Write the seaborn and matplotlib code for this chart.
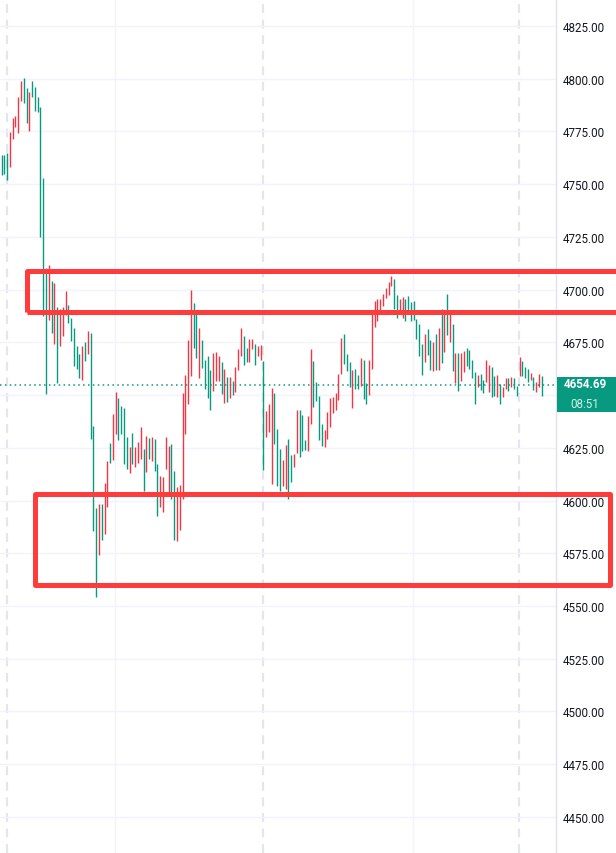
import numpy as np
import pandas as pd
import matplotlib
matplotlib.use("Agg")
import matplotlib.pyplot as plt
from matplotlib.patches import Rectangle
from matplotlib.ticker import FormatStrFormatter
from matplotlib.transforms import blended_transform_factory
import seaborn as sns

# candle highs / lows (one per bar, left to right)
highs = [
    4764.0, 4764.0, 4764.8, 4774.7, 4781.4, 4782.5, 4791.5, 4799.1, 4800.4, 4795.6,
    4793.7, 4799.1, 4796.1, 4791.5, 4786.6, 4752.9, 4710.3, 4711.7, 4704.1, 4703.2,
    4691.8, 4690.8, 4691.8, 4699.4, 4692.7, 4686.6, 4681.8, 4673.3, 4669.5, 4673.3,
    4675.2, 4680.4, 4679.5, 4635.4, 4596.5, 4598.4, 4598.4, 4608.3, 4618.8, 4627.3,
    4641.1, 4651.5, 4648.6, 4644.8, 4643.9, 4630.1, 4625.4, 4632.0, 4625.4, 4627.8,
    4634.9, 4624.5, 4630.6, 4629.7, 4630.1, 4629.2, 4617.3, 4611.7, 4611.2, 4630.1,
    4625.9, 4626.8, 4614.0, 4606.4, 4607.4, 4651.0, 4659.5, 4676.1, 4699.8, 4693.7,
    4689.4, 4681.8, 4676.1, 4666.7, 4668.6, 4661.9, 4670.0, 4670.4, 4668.6, 4665.7,
    4662.4, 4658.6, 4658.6, 4656.7, 4663.3, 4671.9, 4681.8, 4678.0, 4672.3, 4676.6,
    4676.6, 4674.2, 4673.3, 4673.8, 4666.2, 4642.5, 4645.8, 4653.4, 4651.0, 4633.9,
    4624.5, 4619.2, 4626.4, 4629.2, 4621.6, 4622.1, 4642.9, 4642.9, 4640.6, 4628.7,
    4640.1, 4671.9, 4666.2, 4656.2, 4649.6, 4636.3, 4633.5, 4642.0, 4648.6, 4649.1,
    4651.0, 4660.0, 4677.1, 4679.0, 4669.5, 4665.7, 4661.9, 4662.4, 4659.5, 4667.6,
    4666.7, 4655.8, 4666.7, 4688.5, 4694.6, 4695.6, 4695.6, 4697.9, 4700.8, 4703.6,
    4706.5, 4705.1, 4697.5, 4695.6, 4696.5, 4695.6, 4697.0, 4694.2, 4694.6, 4686.1,
    4683.7, 4674.2, 4679.0, 4681.4, 4676.1, 4675.2, 4679.0, 4681.8, 4690.8, 4688.9,
    4697.9, 4690.4, 4683.7, 4670.0, 4670.0, 4670.0, 4670.9, 4672.3, 4671.4, 4666.7,
    4661.0, 4659.5, 4660.0, 4657.2, 4666.7, 4664.3, 4663.3, 4659.1, 4659.5, 4655.3,
    4653.9, 4658.1, 4658.1, 4658.6, 4658.1, 4654.3, 4668.1, 4666.2, 4663.3, 4662.4,
    4660.5, 4658.6, 4656.2, 4660.0, 4659.1,
]
lows = [
    4754.5, 4754.8, 4752.0, 4758.3, 4771.4, 4777.3, 4774.3, 4789.4, 4788.6, 4779.0,
    4775.4, 4791.3, 4784.8, 4784.2, 4725.0, 4687.5, 4650.5, 4685.6, 4679.5, 4674.2,
    4655.8, 4673.3, 4678.0, 4688.0, 4684.2, 4675.7, 4663.8, 4662.4, 4658.1, 4657.2,
    4666.2, 4669.5, 4629.2, 4585.6, 4554.3, 4574.2, 4581.3, 4584.2, 4597.0, 4617.8,
    4619.2, 4631.6, 4628.7, 4631.6, 4617.3, 4615.0, 4613.1, 4617.3, 4615.9, 4617.8,
    4619.7, 4604.5, 4613.6, 4619.7, 4618.8, 4614.0, 4592.7, 4597.0, 4594.6, 4615.0,
    4603.1, 4600.8, 4581.3, 4580.8, 4586.1, 4600.8, 4631.6, 4645.8, 4659.1, 4672.3,
    4667.6, 4658.1, 4662.9, 4652.9, 4648.6, 4642.9, 4652.0, 4656.7, 4656.7, 4650.5,
    4646.3, 4646.7, 4648.6, 4650.1, 4651.5, 4661.9, 4668.6, 4664.3, 4665.7, 4665.7,
    4671.9, 4664.3, 4668.6, 4666.7, 4614.5, 4630.1, 4632.5, 4607.9, 4626.8, 4606.9,
    4604.5, 4606.9, 4605.5, 4600.8, 4608.8, 4615.9, 4622.6, 4620.7, 4623.5, 4624.0,
    4623.5, 4636.3, 4644.4, 4647.2, 4628.7, 4625.9, 4625.4, 4629.2, 4634.9, 4641.5,
    4642.9, 4647.7, 4660.0, 4664.8, 4661.4, 4653.9, 4643.9, 4652.9, 4652.9, 4654.3,
    4648.2, 4645.8, 4650.1, 4662.4, 4682.3, 4685.1, 4688.9, 4692.3, 4696.0, 4697.5,
    4701.7, 4690.8, 4686.6, 4688.9, 4686.6, 4685.1, 4688.5, 4685.1, 4685.6, 4676.6,
    4668.6, 4659.5, 4665.7, 4669.0, 4661.9, 4661.4, 4661.9, 4661.9, 4665.2, 4670.4,
    4678.5, 4675.2, 4661.4, 4655.8, 4652.0, 4656.7, 4661.0, 4663.8, 4662.4, 4658.1,
    4645.8, 4653.9, 4652.4, 4651.0, 4656.2, 4651.5, 4649.1, 4649.6, 4649.1, 4645.8,
    4649.1, 4652.9, 4652.0, 4653.9, 4652.9, 4649.6, 4659.1, 4659.1, 4658.1, 4656.2,
    4657.2, 4652.4, 4651.5, 4653.9, 4649.6,
]
# g = teal bar, r = red bar
bar_colors = (
    "gggrrrrrgg" "rggggggrgr" "grrrgggggr" "grgggrgrrg" "rrggggrgrr"
    "rgrgrggrrr" "rggrrrrrrg" "grggggrrrg" "rgrgrrrggr" "rgrrgrrrgg"
    "grrggrrggg" "rrggggrrrr" "rrrgggrggr" "ggrrrrrrrr" "rggrrggggg"
    "ggrggrgrgr" "grgrgrrggg" "grggrrggrg" "rrgrggrggg" "rgrrg"
)
last_price = 4654.69
countdown = "08:51"
price_ticks = [4450, 4475, 4500, 4525, 4550, 4575, 4600, 4625,
               4650, 4675, 4700, 4725, 4750, 4775, 4800, 4825]
# hand-drawn zones (low, high)
zones = [(4689.2, 4708.8), (4560.0, 4603.1)]

df = pd.DataFrame({"high": highs, "low": lows, "dir": list(bar_colors)})
df["bar"] = np.arange(len(df))

UP = "#089981"
DOWN = "#f23645"
ZONE = "#ff3b3b"

sns.set_theme(style="white")
plt.rcParams["font.family"] = ["Roboto", "DejaVu Sans"]

fig = plt.figure(figsize=(6.16, 8.54), dpi=100)
fig.patch.set_facecolor("white")
ax = fig.add_axes([0, 0, 556 / 616, 1])
ax.set_facecolor("white")
ax.set_xlim(-0.54, 199.1)
ax.set_ylim(4432.9, 4837.8)

# grid
ax.set_yticks(price_ticks)
ax.yaxis.set_major_formatter(FormatStrFormatter("%.2f"))
ax.grid(axis="y", color="#f0f3fa", lw=1.0)
ax.set_xticks([])
for xv in [40.75, 147.8]:
    ax.axvline(xv, color="#f0f3fa", lw=1.0, zorder=0)
for xv in [1.87, 93.9, 185.8]:
    ax.axvline(xv, color="#e3e6ee", lw=1.6, ls=(0, (4, 3)), zorder=0)

# candles
cmap = {"g": UP, "r": DOWN}
ax.vlines(df["bar"], df["low"], df["high"],
          colors=[cmap[c] for c in df["dir"]], lw=1.0, zorder=3)

# last price line
ax.axhline(last_price, color=UP, lw=1.1, ls=(0, (1, 2.2)), zorder=2)

# axis styling
ax.yaxis.tick_right()
ax.tick_params(axis="y", length=0, pad=5, labelsize=8.4, labelcolor="#131722")
for s in ["left", "top", "bottom"]:
    ax.spines[s].set_visible(False)
ax.spines["right"].set_color("#e0e3eb")
ax.spines["right"].set_linewidth(1.0)

# the price label covers the nearest tick label, as on the source chart
fig.canvas.draw()
for t in ax.get_yticklabels():
    if abs(t.get_position()[1] - last_price) < 10:
        t.set_visible(False)

# red zones
zone_left = [9.2, 12.0]
zone_right = [235.0, 218.4]
for (lo, hi), x0, x1 in zip(zones, zone_left, zone_right):
    ax.add_patch(Rectangle((x0, lo), x1 - x0, hi - lo, fill=False,
                           edgecolor=ZONE, lw=3.6, joinstyle="round",
                           clip_on=False, zorder=5))

# price label
trans = blended_transform_factory(ax.transAxes, ax.transData)
ax.add_patch(Rectangle((1.002, last_price - 12.9), 0.12, 16.8,
                       transform=trans, facecolor=UP, edgecolor="none",
                       clip_on=False, zorder=6))
ax.text(1.052, last_price + 0.8, f"{last_price:.2f}", transform=trans,
        ha="center", va="center", color="white", fontsize=8.4,
        fontweight="bold", zorder=7, clip_on=False)
ax.text(1.052, last_price - 8.5, countdown, transform=trans,
        ha="center", va="center", color="#d2efe8", fontsize=8.4,
        zorder=7, clip_on=False)

fig.savefig("out.png", dpi=100, facecolor="white")
